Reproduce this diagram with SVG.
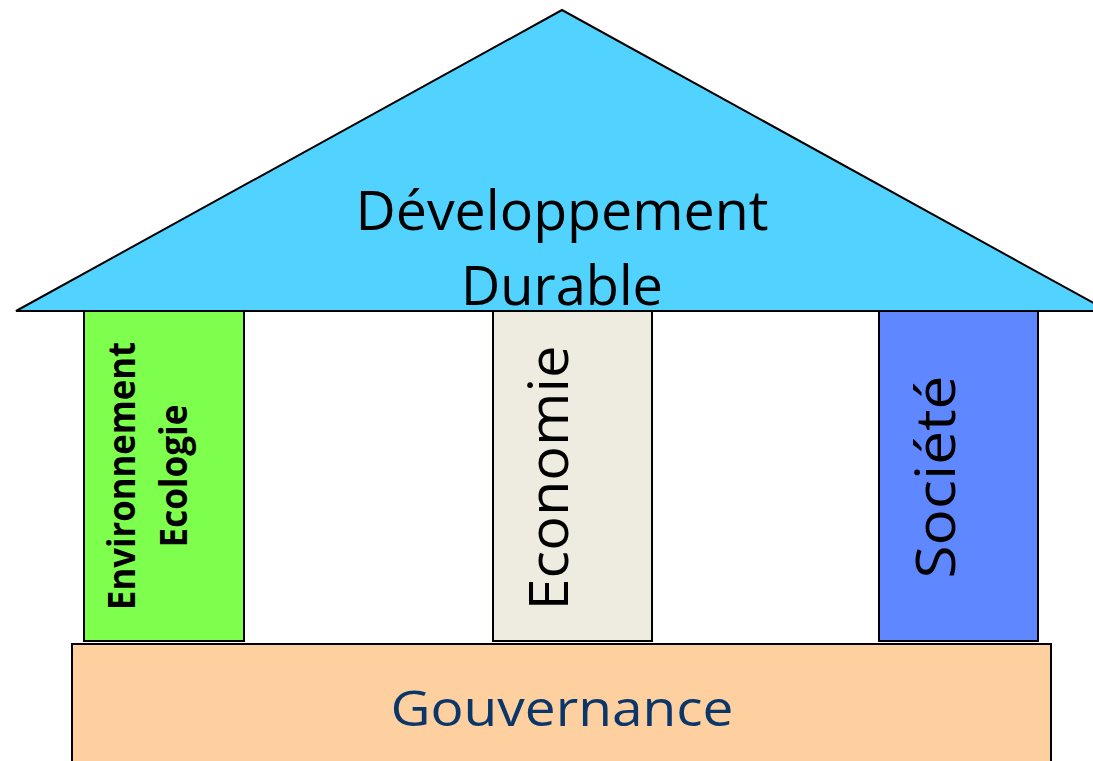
<svg xmlns="http://www.w3.org/2000/svg" width="1093" height="761" viewBox="0 0 1093 761">
<style>
.s{stroke:#000;stroke-width:2}
.t{font-family:"Open Sans","Noto Sans",sans-serif;fill:#000}
</style>
<rect width="1093" height="761" fill="#fff"/>
<g id="roof">
<polygon class="s" points="16,311 562,10 1108,311" fill="#52D3FF"/>
<text class="t" font-size="54" text-anchor="middle" x="562" y="230" textLength="413" lengthAdjust="spacingAndGlyphs">Développement</text>
<text class="t" font-size="54" text-anchor="middle" x="562" y="305" textLength="202" lengthAdjust="spacingAndGlyphs">Durable</text>
</g>
<g id="pillar-env">
<rect class="s" x="84" y="311" width="160" height="330" fill="#7EFF4E"/>
<text class="t" font-weight="bold" font-size="38" text-anchor="middle" transform="translate(135,476) rotate(-90)" textLength="268" lengthAdjust="spacingAndGlyphs">Environnement</text>
<text class="t" font-weight="bold" font-size="38" text-anchor="middle" transform="translate(187,476) rotate(-90)" textLength="143" lengthAdjust="spacingAndGlyphs">Ecologie</text>
</g>
<g id="pillar-eco">
<rect class="s" x="493" y="311" width="159" height="330" fill="#EEEBE0"/>
<text class="t" font-size="54" text-anchor="middle" transform="translate(568,478) rotate(-90)" textLength="265" lengthAdjust="spacingAndGlyphs">Economie</text>
</g>
<g id="pillar-soc">
<rect class="s" x="879" y="311" width="159" height="330" fill="#5F87FF"/>
<text class="t" font-size="54" text-anchor="middle" transform="translate(955,477) rotate(-90)" textLength="203" lengthAdjust="spacingAndGlyphs">Société</text>
</g>
<g id="base">
<rect class="s" x="72" y="644" width="979" height="130" fill="#FED0A0"/>
<text class="t" font-size="50" text-anchor="middle" x="562" y="726" style="fill:#0B3669" textLength="343" lengthAdjust="spacingAndGlyphs">Gouvernance</text>
</g>
<g id="connectors"/>
</svg>
